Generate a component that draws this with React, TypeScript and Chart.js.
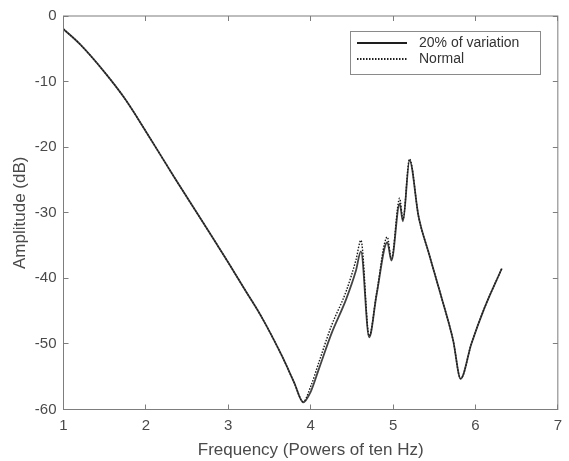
import React, { useEffect, useRef } from "react";
import { Chart, registerables } from "chart.js";

Chart.register(...registerables);

// Frequency in powers of ten Hz
const freq = [
  1.0, 1.2, 1.5, 1.75, 2.0, 2.35, 2.75, 3.0, 3.2, 3.4, 3.65, 3.8, 3.91, 4.0,
  4.1, 4.25, 4.43, 4.55, 4.61, 4.71, 4.8, 4.93, 4.98, 5.08, 5.12, 5.2, 5.31,
  5.43, 5.59, 5.73, 5.82, 5.95, 6.11, 6.32,
];

// Amplitude (dB), 20% of variation
const variation = [
  -2.0, -4.3, -8.6, -12.7, -17.6, -24.7, -32.6, -37.6, -41.7, -45.8, -51.8,
  -55.9, -58.9, -57.3, -53.8, -48.5, -43.2, -38.8, -35.9, -49.0, -42.5, -34.5,
  -37.3, -28.6, -31.3, -22.0, -30.6, -36.0, -43.0, -49.5, -55.3, -50.0, -44.5,
  -38.5,
];

// Amplitude (dB), normal
const normal = [
  -2.0, -4.3, -8.6, -12.7, -17.6, -24.7, -32.6, -37.6, -41.7, -45.8, -51.8,
  -55.9, -58.8, -56.5, -52.8, -47.3, -42.0, -37.2, -34.2, -48.8, -42.3, -33.7,
  -37.0, -27.8, -31.0, -21.8, -30.6, -36.0, -43.0, -49.5, -55.3, -50.0, -44.5,
  -38.5,
];

const seriesNames = ["20% of variation", "Normal"];
const xTitle = "Frequency (Powers of ten Hz)";
const yTitle = "Amplitude (dB)";
const xRange = [1, 7];
const yRange = [-60, 0];

const FONT = "'Liberation Sans', Arial, Helvetica, sans-serif";
const AXIS_COLOR = "#7d7d7d";
const TEXT_COLOR = "#4a4a4a";

const framePlugin = {
  id: "matlabFrame",
  afterDatasetsDraw(chart: any) {
    const { ctx, chartArea: a, scales } = chart;
    ctx.save();
    ctx.strokeStyle = AXIS_COLOR;
    ctx.lineWidth = 1;
    ctx.strokeRect(a.left, a.top, a.right - a.left, a.bottom - a.top);
    const tl = 5;
    ctx.beginPath();
    scales.x.ticks.forEach((t: any) => {
      const px = Math.floor(scales.x.getPixelForValue(t.value)) + 0.5;
      ctx.moveTo(px, a.bottom);
      ctx.lineTo(px, a.bottom - tl);
      ctx.moveTo(px, a.top);
      ctx.lineTo(px, a.top + tl);
    });
    scales.y.ticks.forEach((t: any) => {
      const py = Math.floor(scales.y.getPixelForValue(t.value)) + 0.5;
      ctx.moveTo(a.left, py);
      ctx.lineTo(a.left + tl, py);
      ctx.moveTo(a.right, py);
      ctx.lineTo(a.right - tl, py);
    });
    ctx.stroke();
    ctx.restore();
  },
  afterDraw(chart: any) {
    const { ctx } = chart;
    ctx.save();
    const bx = 350.5, by = 31.5, bw = 190, bh = 43;
    ctx.fillStyle = "#ffffff";
    ctx.fillRect(bx, by, bw, bh);
    ctx.strokeStyle = "#8a8a8a";
    ctx.lineWidth = 1;
    ctx.strokeRect(bx, by, bw, bh);
    // solid sample
    ctx.strokeStyle = "#1e1e1e";
    ctx.lineWidth = 2;
    ctx.setLineDash([]);
    ctx.beginPath();
    ctx.moveTo(357, 43);
    ctx.lineTo(407, 43);
    ctx.stroke();
    // dotted sample
    ctx.setLineDash([1.5, 1.5]);
    ctx.beginPath();
    ctx.moveTo(357, 59);
    ctx.lineTo(407, 59);
    ctx.stroke();
    ctx.setLineDash([]);
    ctx.fillStyle = "#333333";
    ctx.font = `14px ${FONT}`;
    ctx.textBaseline = "middle";
    ctx.textAlign = "left";
    ctx.fillText(seriesNames[0], 419, 43);
    ctx.fillText(seriesNames[1], 419, 59);
    ctx.restore();
  },
};

export default function App() {
  const ref = useRef<HTMLCanvasElement | null>(null);

  useEffect(() => {
    if (!ref.current) return;
    const chart = new Chart(ref.current, {
      type: "line",
      data: {
        datasets: [
          {
            label: seriesNames[0],
            data: freq.map((f, i) => ({ x: f, y: variation[i] })),
            borderColor: "#444444",
            borderWidth: 1.8,
            pointRadius: 0,
            cubicInterpolationMode: "monotone",
            fill: false,
            order: 2,
          },
          {
            label: seriesNames[1],
            data: freq.map((f, i) => ({ x: f, y: normal[i] })),
            borderColor: "#1a1a1a",
            borderWidth: 1.4,
            borderDash: [1.5, 1.5],
            pointRadius: 0,
            cubicInterpolationMode: "monotone",
            fill: false,
            order: 1,
          },
        ],
      },
      options: {
        animation: false,
        responsive: false,
        maintainAspectRatio: false,
        devicePixelRatio: 1,
        layout: { padding: { top: 11.5, right: 4.5, bottom: 0, left: 0 } },
        plugins: {
          legend: { display: false },
          tooltip: { enabled: false },
        },
        scales: {
          x: {
            type: "linear",
            min: xRange[0],
            max: xRange[1],
            grid: { display: false, drawTicks: false },
            border: { display: false },
            ticks: {
              stepSize: 1,
              padding: 7,
              color: TEXT_COLOR,
              font: { family: FONT, size: 15 },
              maxRotation: 0,
            },
            title: {
              display: true,
              text: xTitle,
              color: TEXT_COLOR,
              font: { family: FONT, size: 17 },
              padding: { top: 0, bottom: 0 },
            },
            afterFit: (s: any) => {
              s.height = 51.5;
            },
          },
          y: {
            type: "linear",
            min: yRange[0],
            max: yRange[1],
            grid: { display: false, drawTicks: false },
            border: { display: false },
            ticks: {
              stepSize: 10,
              padding: 7,
              color: TEXT_COLOR,
              font: { family: FONT, size: 15 },
            },
            title: {
              display: true,
              text: yTitle,
              color: TEXT_COLOR,
              font: { family: FONT, size: 17 },
              padding: { top: 10, bottom: 0 },
            },
            afterFit: (s: any) => {
              s.width = 63.5;
            },
          },
        },
      },
      plugins: [framePlugin],
    });
    return () => chart.destroy();
  }, []);

  return (
    <div style={{ position: "absolute", left: 0, top: 0, width: 569, height: 461, background: "#fff" }}>
      <canvas ref={ref} width={569} height={461} style={{ display: "block", width: 569, height: 461 }} />
    </div>
  );
}
